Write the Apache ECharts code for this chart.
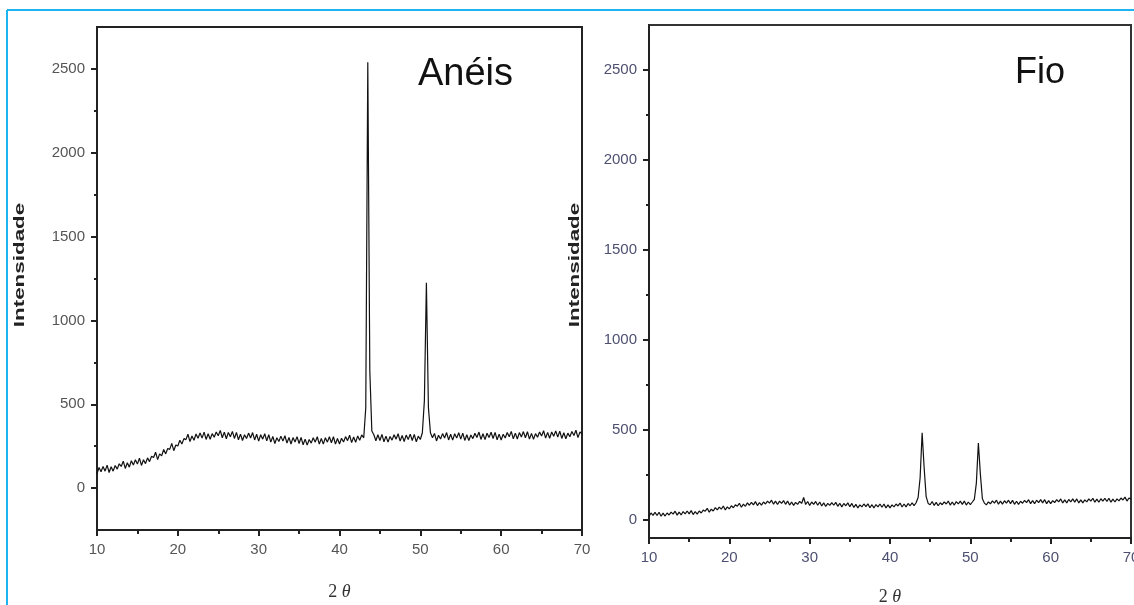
<!DOCTYPE html>
<html>
<head>
<meta charset="utf-8">
<title>Anéis / Fio</title>
<script src="https://cdn.jsdelivr.net/npm/echarts@6/dist/echarts.min.js"></script>
<style>
  html, body { margin: 0; padding: 0; background: #fff; }
  #chart { width: 1134px; height: 605px; }
</style>
</head>
<body>
<div id="chart"></div>
<script>
// 2θ sampling: from 10 to 70, every 0.25 degree
var thetaStart = 10;
var thetaStep = 0.25;

// Anéis, one row per degree (x = n, n.25, n.5, n.75)
var aneis = [
  85, 123, 97, 129,
  101, 137, 93, 127,
  101, 135, 113, 145,
  129, 161, 117, 151,
  125, 163, 137, 169,
  143, 179, 135, 169,
  146, 180, 158, 190,
  182, 214, 170, 204,
  192, 230, 204, 236,
  231, 267, 223, 257,
  251, 285, 263, 295,
  289, 321, 277, 311,
  285, 323, 297, 329,
  298, 334, 290, 324,
  291, 325, 303, 335,
  312, 344, 300, 334,
  294, 332, 306, 338,
  296, 332, 288, 322,
  284, 318, 296, 328,
  299, 331, 287, 321,
  280, 318, 292, 324,
  282, 318, 274, 308,
  266, 300, 278, 310,
  280, 312, 268, 302,
  263, 301, 275, 307,
  266, 302, 258, 292,
  256, 290, 268, 300,
  274, 306, 262, 296,
  262, 300, 274, 306,
  270, 306, 262, 296,
  263, 297, 275, 307,
  283, 315, 271, 305,
  273, 311, 285, 317,
  300, 480, 2540, 700,
  340, 318, 282, 318,
  284, 320, 276, 310,
  274, 308, 286, 318,
  292, 324, 280, 314,
  278, 316, 290, 322,
  284, 320, 276, 310,
  290, 330, 520, 1225,
  480, 330, 300, 326,
  281, 315, 293, 325,
  299, 331, 287, 321,
  286, 324, 298, 330,
  292, 328, 284, 318,
  283, 317, 295, 327,
  302, 334, 290, 324,
  289, 327, 301, 333,
  296, 332, 288, 322,
  287, 321, 299, 331,
  306, 338, 294, 328,
  293, 331, 305, 337,
  300, 336, 292, 326,
  291, 325, 303, 335,
  310, 342, 298, 332,
  297, 335, 309, 341,
  304, 340, 296, 330,
  294, 328, 306, 338,
  313, 345, 301, 335,
  322
];

// Fio, same sampling
var fio = [
  20, 39, 26, 42,
  25, 43, 21, 38,
  22, 39, 28, 44,
  33, 49, 27, 44,
  28, 47, 34, 50,
  34, 52, 30, 47,
  33, 50, 39, 55,
  49, 65, 43, 60,
  50, 69, 56, 72,
  60, 78, 56, 73,
  62, 79, 68, 84,
  77, 93, 71, 88,
  76, 95, 82, 98,
  84, 102, 80, 97,
  83, 100, 89, 105,
  94, 110, 88, 105,
  86, 105, 92, 108,
  87, 105, 83, 100,
  81, 98, 87, 103,
  92, 125, 86, 103,
  81, 100, 87, 103,
  82, 100, 78, 95,
  75, 92, 81, 97,
  82, 98, 76, 93,
  73, 92, 79, 95,
  74, 92, 70, 87,
  67, 84, 73, 89,
  74, 90, 68, 85,
  67, 86, 73, 89,
  71, 89, 67, 84,
  67, 84, 73, 89,
  78, 94, 72, 89,
  73, 92, 79, 95,
  80, 96, 125, 235,
  485, 290, 130, 92,
  85, 103, 81, 98,
  79, 96, 85, 101,
  89, 105, 83, 100,
  83, 102, 89, 105,
  87, 105, 83, 100,
  86, 100, 115, 205,
  428, 255, 118, 94,
  84, 101, 90, 106,
  94, 110, 88, 105,
  88, 107, 94, 110,
  91, 109, 87, 104,
  87, 104, 93, 109,
  97, 113, 91, 108,
  91, 110, 97, 113,
  95, 113, 91, 108,
  91, 108, 97, 113,
  101, 117, 95, 112,
  95, 114, 101, 117,
  99, 117, 95, 112,
  95, 112, 101, 117,
  105, 121, 99, 116,
  99, 118, 105, 121,
  103, 121, 99, 116,
  100, 117, 106, 122,
  111, 127, 105, 122,
  116
];

var xTicks = [10, 20, 30, 40, 50, 60, 70];
var yMajor = [0, 500, 1000, 1500, 2000, 2500];
var yMinor = [250, 750, 1250, 1750, 2250];

var tickFont = "'Liberation Sans Narrow', 'Liberation Sans', Arial, sans-serif";

function toPairs(values) {
    return values.map(function (v, i) {
        return [thetaStart + i * thetaStep, v];
    });
}

function plain(v) {
    return String(v);
}

function makeX(gridIndex, labelColor, nameGap) {
    return {
        type: 'value',
        gridIndex: gridIndex,
        min: xTicks[0],
        max: xTicks[xTicks.length - 1],
        interval: 10,
        name: '{n|2 }{t|θ}',
        nameLocation: 'middle',
        nameGap: nameGap,
        nameTextStyle: {
            rich: {
                n: { fontFamily: 'Liberation Serif', fontSize: 18, color: '#333' },
                t: { fontFamily: 'Liberation Serif', fontSize: 18, fontStyle: 'italic', color: '#333' }
            }
        },
        axisLine: { onZero: false, lineStyle: { color: '#222', width: 2 } },
        axisTick: { length: 6, lineStyle: { color: '#222', width: 2 } },
        minorTick: { show: true, splitNumber: 2, length: 4, lineStyle: { color: '#222', width: 2 } },
        axisLabel: { margin: 12, fontFamily: tickFont, fontSize: 15, color: labelColor, formatter: plain },
        splitLine: { show: false }
    };
}

function makeY(gridIndex, min, labelColor) {
    return {
        type: 'value',
        gridIndex: gridIndex,
        position: 'left',
        min: min,
        max: 2750,
        axisLine: { onZero: false, lineStyle: { color: '#222', width: 2 } },
        axisTick: { customValues: yMajor, length: 6, lineStyle: { color: '#222', width: 2 } },
        axisLabel: { customValues: yMajor, margin: 12, fontFamily: tickFont, fontSize: 15, color: labelColor, formatter: plain },
        splitLine: { show: false }
    };
}

function makeYMinor(gridIndex, min) {
    return {
        type: 'value',
        gridIndex: gridIndex,
        position: 'left',
        offset: 0,
        min: min,
        max: 2750,
        axisLine: { show: false, onZero: false },
        axisTick: { customValues: yMinor, length: 3, lineStyle: { color: '#222', width: 2 } },
        axisLabel: { show: false },
        splitLine: { show: false }
    };
}

function yName(x) {
    return {
        type: 'text',
        x: x,
        y: 265,
        rotation: Math.PI / 2,
        scaleX: 1.6,
        style: {
            text: 'Intensidade',
            font: 'bold 14px "Liberation Sans", Arial, sans-serif',
            fill: '#222',
            textAlign: 'center',
            textVerticalAlign: 'middle'
        }
    };
}

var option = {
    animation: false,
    backgroundColor: '#fff',
    title: [
        {
            text: 'Anéis', left: 418, top: 56, padding: 0,
            textStyle: { fontFamily: 'Liberation Sans', fontSize: 38, lineHeight: 38, fontWeight: 'normal', color: '#111' }
        },
        {
            text: 'Fio', left: 1015, top: 55, padding: 0,
            textStyle: { fontFamily: tickFont, fontSize: 36, lineHeight: 36, fontWeight: 'normal', color: '#111' }
        }
    ],
    grid: [
        { left: 97, top: 27, width: 485, height: 503, containLabel: false, outerBoundsMode: 'none',
          show: true, borderColor: '#222', borderWidth: 2 },
        { left: 649, top: 25, width: 482, height: 513, containLabel: false, outerBoundsMode: 'none',
          show: true, borderColor: '#333', borderWidth: 2 }
    ],
    xAxis: [
        makeX(0, '#555', 53),
        makeX(1, '#4d5070', 50)
    ],
    yAxis: [
        makeY(0, -250, '#555'),
        makeYMinor(0, -250),
        makeY(1, -100, '#4d5070'),
        makeYMinor(1, -100)
    ],
    series: [
        {
            name: 'Anéis', type: 'line', xAxisIndex: 0, yAxisIndex: 0,
            data: toPairs(aneis), showSymbol: false,
            lineStyle: { color: '#111', width: 1.2 }
        },
        {
            name: 'Fio', type: 'line', xAxisIndex: 1, yAxisIndex: 2,
            data: toPairs(fio), showSymbol: false,
            lineStyle: { color: '#111', width: 1.2 }
        }
    ],
    graphic: [
        { type: 'line', shape: { x1: 7, y1: 10, x2: 1134, y2: 10 }, style: { stroke: '#1cb5f2', lineWidth: 2 } },
        { type: 'line', shape: { x1: 7, y1: 10, x2: 7, y2: 605 }, style: { stroke: '#1cb5f2', lineWidth: 2 } },
        yName(20),
        yName(575)
    ]
};

var chart = echarts.init(document.getElementById('chart'));
chart.setOption(option);
window.addEventListener('resize', function () { chart.resize(); });
</script>
</body>
</html>
